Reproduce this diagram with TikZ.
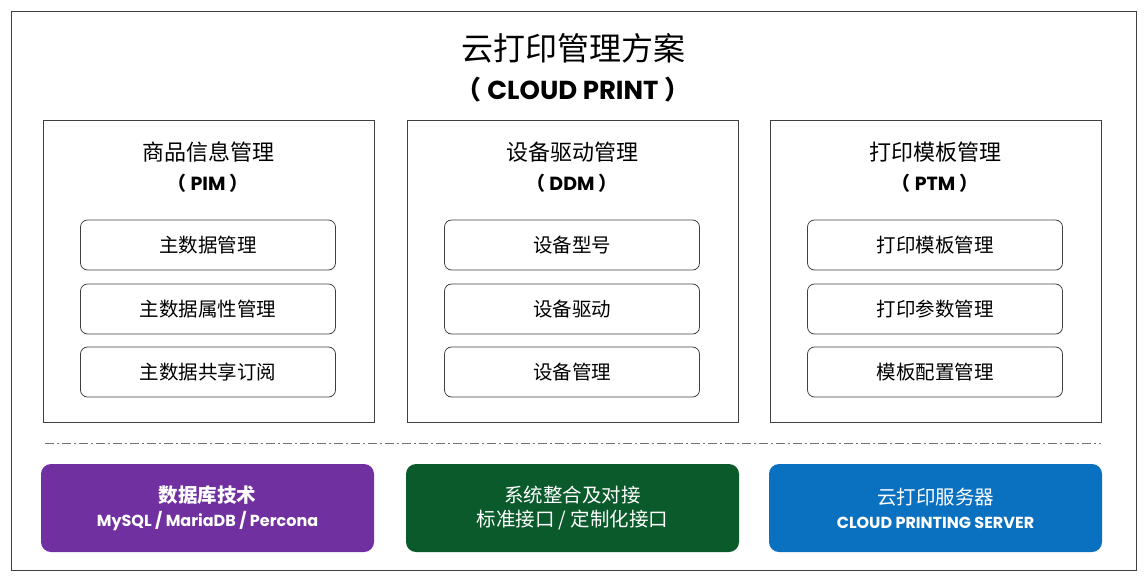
\documentclass[tikz,border=0pt]{standalone}
\usepackage{fontspec}
\setmainfont{Poppins}
\newfontfamily\cjk{Noto Sans CJK SC}
\definecolor{cpurple}{HTML}{7030A0}
\definecolor{cgreen}{HTML}{0B5A2C}
\definecolor{cblue}{HTML}{0A70C0}
\begin{document}
\begin{tikzpicture}[x=1pt,y=-1pt,
  col/.style={draw=black!75,line width=0.8pt,minimum width=331pt,minimum height=302pt,anchor=north west},
  item/.style={draw=black!75,line width=0.8pt,rounded corners=7pt,minimum width=255pt,minimum height=50pt,font=\cjk\fontsize{19.5}{22}\selectfont},
  bot/.style={rounded corners=10pt,minimum width=333pt,minimum height=88pt,text=white,align=center,font=\cjk\fontsize{19.5}{26}\selectfont},
  head/.style={align=center,font=\cjk\fontsize{22}{30}\selectfont}]
\useasboundingbox (0,0) rectangle (1147,579);
\node[draw=black!75,line width=0.8pt,minimum width=1125pt,minimum height=559pt,anchor=north west] (frame) at (11,11) {};
\node (title) at (573,48) {\cjk\fontsize{32}{34}\selectfont 云打印管理方案};
\node (sub) at (573,90) {\fontsize{26}{28}\selectfont\bfseries{\cjk （} CLOUD PRINT {\cjk ）}};
\foreach \n/\x/\h/\a/\i/\j/\k in {
  1/43/商品信息管理/PIM/主数据管理/主数据属性管理/主数据共享订阅,
  2/407/设备驱动管理/DDM/设备型号/设备驱动/设备管理,
  3/770/打印模板管理/PTM/打印模板管理/打印参数管理/模板配置管理}{
  \node[col] (c\n) at (\x,120) {};
  \node[head] (h\n) at (\x+165,152) {\h};
  \node (a\n) at (\x+165,183) {\fontsize{19}{22}\selectfont\bfseries{\cjk （} \a\ {\cjk ）}};
  \node[item] (i\n a) at (\x+165,245) {\i};
  \node[item] (i\n b) at (\x+165,309) {\j};
  \node[item] (i\n c) at (\x+165,372) {\k};
}
\coordinate (dl) at (45,443); \coordinate (dr) at (1101,443);
\draw[black!55,line width=0.8pt,dash pattern=on 9pt off 3pt on 2pt off 3pt] (dl) -- (dr);
\node[bot,fill=cpurple] (b1) at (207.5,508) {\textbf{数据库技术}\\[-2pt]{\fontspec{Poppins}\bfseries\fontsize{16}{18}\selectfont MySQL / MariaDB / Percona}};
\node[bot,fill=cgreen] (b2) at (572.5,508) {系统整合及对接\\[-2pt]标准接口 / 定制化接口};
\node[bot,fill=cblue] (b3) at (935.5,508) {云打印服务器\\[-2pt]{\fontspec{Poppins}\bfseries\fontsize{16}{18}\selectfont CLOUD PRINTING SERVER}};
\end{tikzpicture}
\end{document}
